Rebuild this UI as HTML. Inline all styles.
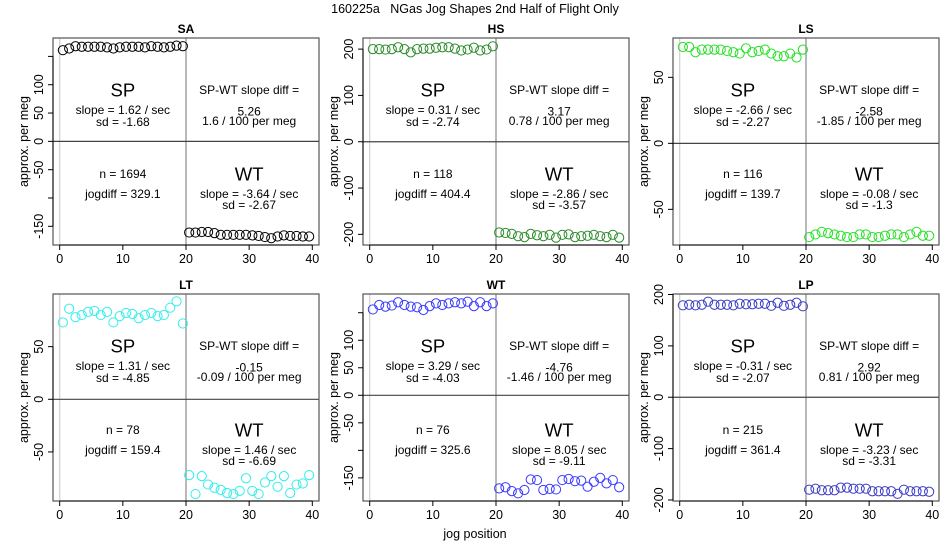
<!DOCTYPE html>
<html><head><meta charset="utf-8">
<style>
html,body{margin:0;padding:0;background:#fff;}
svg{display:block;font-family:"Liberation Sans",Arial,sans-serif;}
</style></head>
<body>
<svg id="chart" width="950" height="550" viewBox="0 0 950 550" xmlns="http://www.w3.org/2000/svg">
<text x="475" y="13" text-anchor="middle" font-size="12.5" xml:space="preserve" style="white-space:pre">160225a   NGas Jog Shapes 2nd Half of Flight Only</text>
<text x="475" y="538" text-anchor="middle" font-size="12.5">jog position</text>
</svg>
<script>
const panelNames = ["SA","HS","LS","LT","WT","LP"];
const panelColors = ["#000000","#2a8a2a","#22e022","#33eeee","#3a3aff","#3a3ac4"];
const spSA = [161,164,168,167,167,167,167,166,164,166,167,167,167,166,168,167,166,167,169,168];
const wtSA = [-161,-161,-160,-160,-162,-165,-165,-165,-165,-165,-166,-167,-169,-171,-168,-166,-167,-167,-168,-168];
const spHS = [200,200,199,200,204,200,193,200,201,201,203,204,204,201,197,199,203,197,199,206];
const wtHS = [-196,-197,-199,-204,-206,-199,-202,-204,-201,-207,-201,-200,-206,-204,-203,-201,-204,-206,-201,-207];
const spLS = [73,73,69,71,71,71,71,70,69,68,72,69,70,71,68,66,66,68,65,71];
const wtLS = [-71,-69,-67,-68,-69,-70,-71,-71,-69,-69,-71,-71,-70,-69,-69,-71,-69,-67,-70,-70];
const spLT = [73,86,78,80,83,84,80,83,73,79,82,81,77,80,82,79,80,87,93,72];
const wtLT = [-72,-90,-73,-81,-84,-86,-89,-90,-87,-75,-87,-90,-79,-73,-83,-73,-89,-81,-80,-72];
const spWT = [156,164,161,163,169,164,161,160,155,162,167,164,167,169,167,170,162,169,162,167];
const wtWT = [-169,-167,-174,-178,-172,-153,-154,-172,-170,-171,-154,-152,-156,-155,-166,-157,-150,-160,-154,-167];
const spLP = [179,180,179,180,186,180,180,180,179,182,181,181,182,182,178,184,178,180,184,177];
const wtLP = [-180,-178,-181,-181,-181,-176,-176,-178,-178,-178,-183,-183,-183,-183,-188,-180,-183,-183,-183,-184];
const spSeries = [spSA,spHS,spLS,spLT,spWT,spLP];
const wtSeries = [wtSA,wtHS,wtLS,wtLT,wtWT,wtLP];
const yMins = [-183,-223,-77,-96.6,-192,-202];
const yMaxs = [182.5,224,79.8,100,184,201];
const yTicks = [[-150,-100,-50,0,50,100,150],[-200,-100,0,100,200],[-50,0,50],[-50,0,50],[-150,-100,-50,0,50,100,150],[-200,-100,0,100,200]];
const yTickLabels = [["-150","","-50","0","50","100",""],["-200","-100","0","100","200"],["-50","0","50"],["-50","0","50"],["-150","","-50","0","50","100",""],["-200","-100","0","100","200"]];
const xTicks = [0,10,20,30,40];
const spSlopes = ["1.62","0.31","-2.66","1.31","3.29","-0.31"];
const spSds = ["-1.68","-2.74","-2.27","-4.85","-4.03","-2.07"];
const wtSlopes = ["-3.64","-2.86","-0.08","1.46","8.05","-3.23"];
const wtSds = ["-2.67","-3.57","-1.3","-6.69","-9.11","-3.31"];
const diffs = ["5.26","3.17","-2.58","-0.15","-4.76","2.92"];
const diffsPerMeg = ["1.6","0.78","-1.85","-0.09","-1.46","0.81"];
const nVals = ["1694","118","116","78","76","215"];
const jogdiffs = ["329.1","404.4","139.7","159.4","325.6","361.4"];

const svg = document.getElementById('chart');
const NS = 'http://www.w3.org/2000/svg';
function mk(tag, attrs, parent){
  const e = document.createElementNS(NS, tag);
  for (const k in attrs) e.setAttribute(k, attrs[k]);
  (parent||svg).appendChild(e);
  return e;
}
function txt(parent, x, y, s, size, extra){
  const t = mk('text', Object.assign({x:x, y:y, 'font-size':size, 'text-anchor':'middle', 'dominant-baseline':'central'}, extra||{}), parent);
  t.textContent = s;
  return t;
}
const boxLefts = [53,363,673];
const boxTops = [38,294];
const boxW = 266, boxH = 207;
const xMin = -1.06, xMax = 41.06;
const FS = 12;

for (let p = 0; p < 6; p++){
  const L = boxLefts[p%3], T = boxTops[Math.floor(p/3)];
  const g = mk('g', {});
  
  
  const sx = v => L + (v - xMin) / (xMax - xMin) * boxW;
  const sy = v => T + (yMaxs[p] - v) / (yMaxs[p] - yMins[p]) * boxH;

  const t = txt(g, sx(20), T - 9, panelNames[p], 12, {'font-weight':'bold'});
  
  

  const v0 = mk('line', {x1:sx(0), x2:sx(0), y1:T, y2:T+boxH, stroke:'#d0d0d0', 'stroke-width':1.2}, g);
  
  
  const v20 = mk('line', {x1:sx(20), x2:sx(20), y1:T, y2:T+boxH, stroke:'#8a8a8a', 'stroke-width':1.2}, g);
  
  
  const h0 = mk('line', {x1:L, x2:L+boxW, y1:sy(0), y2:sy(0), stroke:'#444', 'stroke-width':1.2}, g);
  
  

  const box = mk('rect', {x:L, y:T, width:boxW, height:boxH, fill:'none', stroke:'#555', 'stroke-width':1.2}, g);
  
  

  const xa = mk('g', {}, g);
  
  
  mk('line', {x1:sx(xTicks[0]), x2:sx(xTicks[xTicks.length-1]), y1:T+boxH, y2:T+boxH, stroke:'#000', 'stroke-width':1}, xa);
  xTicks.forEach(v => {
    mk('line', {x1:sx(v), x2:sx(v), y1:T+boxH, y2:T+boxH+5, stroke:'#000', 'stroke-width':1}, xa);
    const lt = txt(xa, sx(v), T+boxH+14, String(v), 12.5);
    
    
  });

  const ya = mk('g', {}, g);
  
  
  const yt = yTicks[p];
  mk('line', {x1:L, x2:L, y1:sy(yt[0]), y2:sy(yt[yt.length-1]), stroke:'#000', 'stroke-width':1}, ya);
  yt.forEach((v, i) => {
    mk('line', {x1:L-5, x2:L, y1:sy(v), y2:sy(v), stroke:'#000', 'stroke-width':1}, ya);
    if (yTickLabels[p][i]) {
      const lx = L - 14, ly = sy(v);
      const lt = txt(ya, lx, ly, yTickLabels[p][i], 12.5, {transform:'rotate(-90 ' + lx + ' ' + ly + ')'});
      
      
    }
  });
  const axx = L - 29, axy = T + boxH/2;
  const at = txt(g, axx, axy, 'approx. per meg', 12.5, {transform:'rotate(-90 ' + axx + ' ' + axy + ')'});
  
  

  const cL = sx(10), cR = sx(30);
  const ann = mk('g', {}, g);
  
  
  txt(ann, cL, T+52, 'SP', 18.5);
  txt(ann, cL, T+72, 'slope = ' + spSlopes[p] + ' / sec', FS);
  txt(ann, cL, T+84, 'sd = ' + spSds[p], FS);
  txt(ann, cR, T+52, 'SP-WT slope diff =', FS);
  txt(ann, cR, T+73.5, diffs[p], FS);
  txt(ann, cR, T+83, diffsPerMeg[p] + ' / 100 per meg', FS);
  txt(ann, cL, T+136, 'n = ' + nVals[p], FS);
  txt(ann, cL, T+156, 'jogdiff = ' + jogdiffs[p], FS);
  txt(ann, cR, T+136, 'WT', 18.5);
  txt(ann, cR, T+156, 'slope = ' + wtSlopes[p] + ' / sec', FS);
  txt(ann, cR, T+167, 'sd = ' + wtSds[p], FS);

  spSeries[p].forEach((v, i) => {
    const c = mk('circle', {cx:sx(i + 0.5), cy:sy(v), r:4.6, fill:'none', stroke:panelColors[p], 'stroke-width':1}, g);
    
    
  });
  wtSeries[p].forEach((v, i) => {
    const c = mk('circle', {cx:sx(i + 20.5), cy:sy(v), r:4.6, fill:'none', stroke:panelColors[p], 'stroke-width':1}, g);
    
    
  });
}
</script>
</body></html>
